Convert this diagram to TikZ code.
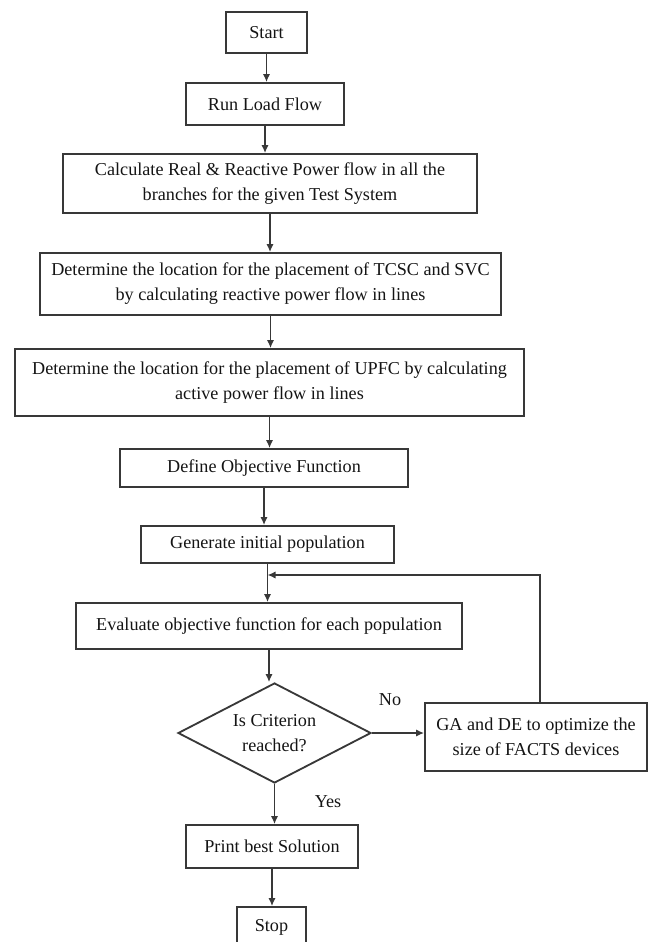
\documentclass[tikz,border=0pt]{standalone}
\usepackage{fontspec}
\setmainfont{Liberation Serif}
\usetikzlibrary{shapes.geometric,arrows.meta}

\begin{document}
\begin{tikzpicture}[x=0.6pt,y=-0.6pt,>={Latex[length=4.8pt,width=4.4pt]},
    flow_box/.style={draw=color_line,line width=1.1pt,text=color_text,align=center,inner sep=0,font=\fontsize{10.9}{15}\selectfont},
    flow_arrow/.style={draw=color_line,line width=1.1pt,->}]
    \definecolor{color_line}{rgb}{0.22,0.22,0.22}
    \definecolor{color_text}{rgb}{0.08,0.08,0.08}
    \useasboundingbox (0,0) rectangle (651,942);

    \node[flow_box,minimum width=48.6pt,minimum height=24.6pt] (start_box) at (266.5,32.5) {Start};
    \node[flow_box,minimum width=94.8pt,minimum height=25.2pt] (load_flow) at (265,104) {Run Load Flow};
    \node[flow_box,minimum width=248.7pt,minimum height=35.4pt] (calc_flow) at (270,183.5) {Calculate Real \& Reactive Power flow in all the\\branches for the given Test System};
    \node[flow_box,minimum width=276.6pt,minimum height=37.2pt] (tcsc_svc) at (270.5,284) {Determine the location for the placement of TCSC and SVC\\by calculating reactive power flow in lines};
    \node[flow_box,minimum width=305.4pt,minimum height=40.2pt] (upfc_loc) at (269.5,382.5) {Determine the location for the placement of UPFC by calculating\\active power flow in lines};
    \node[flow_box,minimum width=172.5pt,minimum height=22.8pt] (objective) at (264,468) {Define Objective Function};
    \node[flow_box,minimum width=151.8pt,minimum height=22.2pt] (init_pop) at (267.5,544.5) {Generate initial population};
    \node[flow_box,minimum width=231.6pt,minimum height=27.6pt] (evaluate) at (269,626) {Evaluate objective function for each population};
    \node[flow_box,diamond,aspect=1.9,minimum width=115.8pt,minimum height=60pt] (criterion) at (274.5,733) {Is Criterion\\reached?};
    \node[flow_box,minimum width=133.2pt,minimum height=40.8pt] (ga_de) at (536,737) {GA and DE to optimize the\\size of FACTS devices};
    \node[flow_box,minimum width=103.2pt,minimum height=25.8pt] (print_best) at (272,846.5) {Print best Solution};
    \node[flow_box,minimum width=41.4pt,minimum height=24pt] (stop_box) at (271.5,927) {Stop};

    \node[text=color_text,inner sep=0,font=\fontsize{10.9}{15}\selectfont] (no_label) at (390,700) {No};
    \node[text=color_text,inner sep=0,font=\fontsize{10.9}{15}\selectfont] (yes_label) at (328,802) {Yes};

    \coordinate (loop_corner) at (540,575);
    \coordinate (merge) at (init_pop.south |- loop_corner);

    \draw[flow_arrow] (start_box.south) -- (start_box.south |- load_flow.north);
    \draw[flow_arrow] (load_flow.south) -- (load_flow.south |- calc_flow.north);
    \draw[flow_arrow] (calc_flow.south) -- (calc_flow.south |- tcsc_svc.north);
    \draw[flow_arrow] (tcsc_svc.south) -- (tcsc_svc.south |- upfc_loc.north);
    \draw[flow_arrow] (upfc_loc.south) -- (upfc_loc.south |- objective.north);
    \draw[flow_arrow] (objective.south) -- (objective.south |- init_pop.north);
    \draw[flow_arrow] (init_pop.south) -- (init_pop.south |- evaluate.north);
    \draw[flow_arrow] (evaluate.south) -- (evaluate.south |- criterion.north);
    \draw[flow_arrow] (criterion.east) -- (criterion.east -| ga_de.west);
    \draw[flow_arrow] (ga_de.north -| loop_corner) -- (loop_corner) -- (merge);
    \draw[flow_arrow] (criterion.south) -- (criterion.south |- print_best.north);
    \draw[flow_arrow] (print_best.south) -- (print_best.south |- stop_box.north);

  \end{tikzpicture}
\end{document}
